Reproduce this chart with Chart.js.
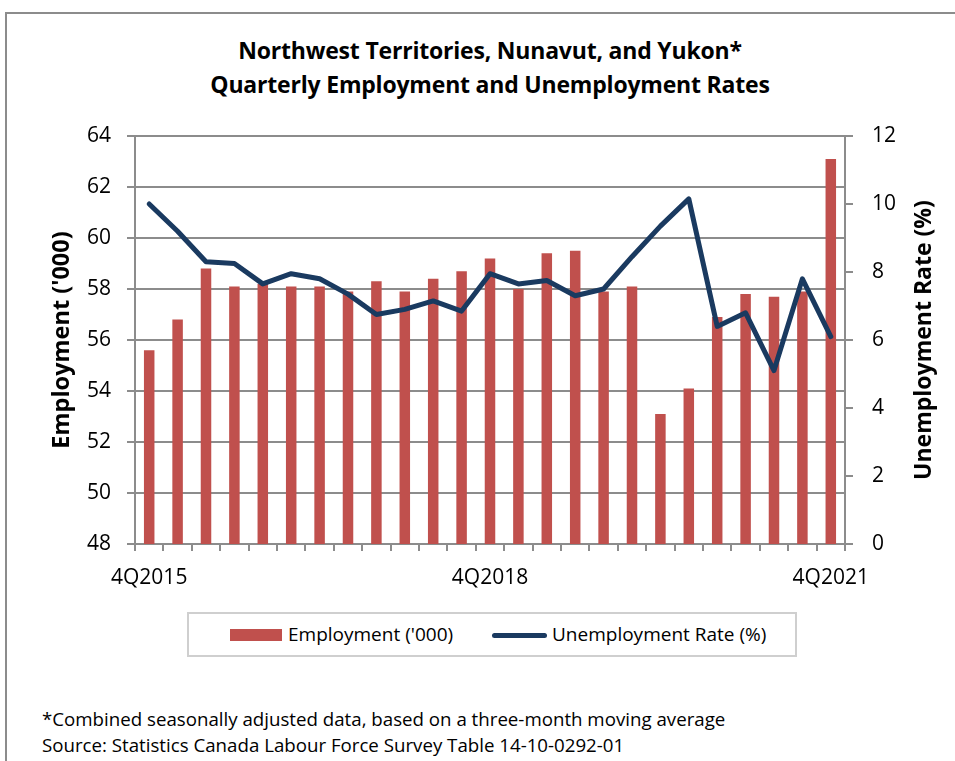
<!DOCTYPE html>
<html>
<head>
<meta charset="utf-8">
<script src="https://cdn.jsdelivr.net/npm/chart.js@4.4.1/dist/chart.umd.min.js"></script>
<style>
  body { margin: 0; background: #fff; font-family: 'Open Sans', sans-serif; }
  .page { position: relative; width: 955px; height: 761px; overflow: hidden; }
  .frame { position: absolute; left: 5px; top: 12px; width: 1000px; height: 800px; border: 2px solid #8c8c8c; box-sizing: border-box; }
  .title { position: absolute; left: 140px; width: 700px; top: 33px; text-align: center; font-weight: bold; font-size: 23px; line-height: 34px; letter-spacing: -0.2px; color: #000; }
  .chart-box { position: absolute; left: 0; top: 110px; }
  .rate-title { position: absolute; left: 772px; top: 326px; width: 300px; height: 28px; line-height: 28px; text-align: center; font-weight: bold; font-size: 23px; color: #000; transform: rotate(-90deg); transform-origin: 50% 50%; }
  .legend { position: absolute; left: 187px; top: 612px; width: 610px; height: 45px; border: 2px solid #cfcfcf; box-sizing: border-box; font-size: 19px; color: #000; }
  .legend__item { position: absolute; top: 0; height: 41px; line-height: 41px; white-space: nowrap; }
  .legend__swatch { position: absolute; }
  .notes { position: absolute; left: 42px; top: 706px; font-size: 18.7px; line-height: 26px; color: #000; }
</style>
</head>
<body>
<div class="page">
  <div class="frame"></div>
  <div class="title">Northwest Territories, Nunavut, and Yukon*<br>Quarterly Employment and Unemployment Rates</div>
  <div class="chart-box"><canvas id="chart" width="955" height="490"></canvas></div>
  <div class="rate-title">Unemployment Rate (%)</div>
  <div class="legend" id="legend"></div>
  <div class="notes">*Combined seasonally adjusted data, based on a three-month moving average<br>Source: Statistics Canada Labour Force Survey Table 14-10-0292-01</div>
</div>
<script>
/**
 * Data
 */
const quarters = [
  '4Q2015', '1Q2016', '2Q2016', '3Q2016', '4Q2016',
  '1Q2017', '2Q2017', '3Q2017', '4Q2017',
  '1Q2018', '2Q2018', '3Q2018', '4Q2018',
  '1Q2019', '2Q2019', '3Q2019', '4Q2019',
  '1Q2020', '2Q2020', '3Q2020', '4Q2020',
  '1Q2021', '2Q2021', '3Q2021', '4Q2021',
];
const employment = [
  55.6, 56.8, 58.8, 58.1, 58.2, 58.1, 58.1, 57.9, 58.3, 57.9, 58.4, 58.7, 59.2,
  58.0, 59.4, 59.5, 57.9, 58.1, 53.1, 54.1, 56.9, 57.8, 57.7, 57.9, 63.1,
];
const unemploymentRate = [
  10.0, 9.2, 8.3, 8.25, 7.65, 7.95, 7.8, 7.35, 6.75, 6.9, 7.15, 6.85, 7.95,
  7.65, 7.75, 7.3, 7.5, 8.45, 9.35, 10.15, 6.4, 6.8, 5.1, 7.8, 6.1,
];
const xTickLabels = ['4Q2015', '4Q2018', '4Q2021'];

/**
 * Chart
 */
const gridColor = '#8c8c8c';
const tickFont = { family: 'Open Sans', size: 21 };
const axisTitleFont = { family: 'Open Sans', size: 23.5, weight: 'bold' };

// Fixed axis box; drop the label overhang so layout padding alone sets the plot top
function fixWidth(width) {
  return (scale) => {
    scale.width = width;
    scale.paddingTop = 0;
    scale.paddingBottom = 0;
  };
}

function createComboChart(selector) {
  const ctx = document.getElementById(selector).getContext('2d');
  return new Chart(ctx, {
    type: 'bar',
    data: {
      labels: quarters,
      datasets: [
        {
          type: 'line',
          label: 'Unemployment Rate (%)',
          data: unemploymentRate,
          yAxisID: 'yRate',
          borderColor: '#1a3a60',
          backgroundColor: '#1a3a60',
          borderWidth: 5,
          pointRadius: 0,
          tension: 0,
          borderJoinStyle: 'round',
          borderCapStyle: 'round',
          order: 0,
        },
        {
          label: "Employment ('000)",
          data: employment,
          yAxisID: 'y',
          backgroundColor: '#c0504d',
          barPercentage: 0.37,
          categoryPercentage: 1,
          order: 1,
        },
      ],
    },
    options: {
      responsive: false,
      animation: false,
      layout: { padding: { top: 26, left: 0, right: 0, bottom: 0 } },
      plugins: { legend: { display: false }, tooltip: { enabled: false } },
      scales: {
        x: {
          grid: { offset: true, drawOnChartArea: false, color: gridColor, lineWidth: 2, tickLength: 7 },
          border: { color: gridColor, width: 2 },
          ticks: {
            autoSkip: false,
            maxRotation: 0,
            padding: 14,
            color: '#000',
            font: tickFont,
            callback: (value, index) => (xTickLabels.includes(quarters[index]) ? quarters[index] : ''),
          },
          afterFit: (scale) => { scale.height = 56; },
        },
        y: {
          position: 'left',
          min: 48,
          max: 64,
          ticks: { stepSize: 2, padding: 16, color: '#000', font: tickFont },
          grid: { color: gridColor, lineWidth: 2, tickLength: 8 },
          border: { color: gridColor, width: 2 },
          title: {
            display: true,
            text: "Employment ('000)",
            color: '#000',
            font: axisTitleFont,
            padding: { top: 48, bottom: 0 },
          },
          afterFit: fixWidth(135),
        },
        yRate: {
          position: 'right',
          min: 0,
          max: 12,
          ticks: { stepSize: 2, padding: 19, color: '#000', font: tickFont },
          grid: { drawOnChartArea: false, color: gridColor, lineWidth: 2, tickLength: 8 },
          border: { color: gridColor, width: 2 },
          afterFit: fixWidth(110),
        },
      },
    },
  });
}

/**
 * Legend (HTML, built from the chart's datasets)
 */
function buildLegend(chart, selector) {
  const element = document.getElementById(selector);
  const bar = chart.data.datasets[1];
  const line = chart.data.datasets[0];
  const items = [
    { dataset: bar, swatchLeft: 41, textLeft: 99, swatch: { width: 52, height: 12, top: 15, radius: 0, color: bar.backgroundColor } },
    { dataset: line, swatchLeft: 303, textLeft: 363, swatch: { width: 55, height: 5, top: 19, radius: 3, color: line.borderColor } },
  ];
  items.forEach(({ dataset, swatchLeft, textLeft, swatch }) => {
    const sw = document.createElement('div');
    sw.className = 'legend__swatch';
    Object.assign(sw.style, {
      left: swatchLeft + 'px',
      top: swatch.top + 'px',
      width: swatch.width + 'px',
      height: swatch.height + 'px',
      borderRadius: swatch.radius + 'px',
      background: swatch.color,
    });
    const label = document.createElement('div');
    label.className = 'legend__item';
    label.style.left = textLeft + 'px';
    label.textContent = dataset.label;
    element.appendChild(sw);
    element.appendChild(label);
  });
}

const chart = createComboChart('chart');
buildLegend(chart, 'legend');
</script>
</body>
</html>
